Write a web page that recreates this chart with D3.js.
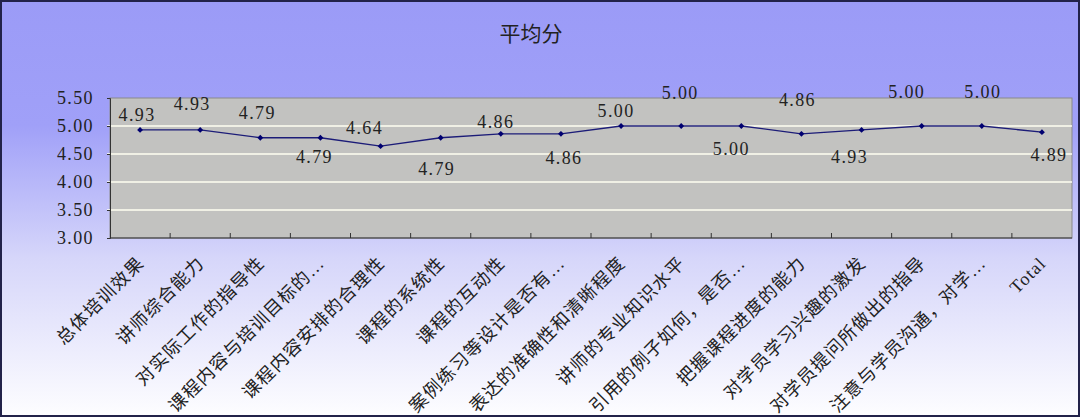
<!DOCTYPE html>
<html>
<head>
<meta charset="utf-8">
<script src="https://cdn.jsdelivr.net/npm/d3@7"></script>
<style>
  html, body { margin: 0; padding: 0; background: #fff; }
  svg { display: block; }
  .num { font-family: "Liberation Serif", "DejaVu Serif", serif; font-size: 18px; letter-spacing: 1.4px; fill: #222; }
  .cat { font-family: "Liberation Serif", "Noto Sans CJK SC", sans-serif; font-size: 18px; letter-spacing: 1.2px; fill: #222; }
</style>
</head>
<body>
<div id="chart"></div>
<script>
// categories and the average score of each
const categories = [
  "总体培训效果", "讲师综合能力", "对实际工作的指导性", "课程内容与培训目标的…",
  "课程内容安排的合理性", "课程的系统性", "课程的互动性", "案例练习等设计是否有…",
  "表达的准确性和清晰程度", "讲师的专业知识水平", "引用的例子如何，是否…",
  "把握课程进度的能力", "对学员学习兴趣的激发", "对学员提问所做出的指导",
  "注意与学员沟通，对学…", "Total"
];
const scores = [4.93, 4.93, 4.79, 4.79, 4.64, 4.79, 4.86, 4.86, 5.00, 5.00, 5.00, 4.86, 4.93, 5.00, 5.00, 4.89];
const yTicks = [3.00, 3.50, 4.00, 4.50, 5.00, 5.50];
const title = "平均分";

// where each value label sits relative to its point (px)
const labelDx = [-3, -8, -3, -6, -16, -4, -5, 3, -5, -1, -10, -4, -12, -15, 1, 7];
const labelDy = [-15, -26, -25, 19, -18, 31, -12, 24, -15, -33, 23, -34, 27, -34, -34, 23];

const W = 1080, H = 417;
const plot = {left: 110, right: 1072, top: 98, bottom: 238};

const svg = d3.select("#chart").append("svg")
  .attr("width", W).attr("height", H);

// background gradient
const defs = svg.append("defs");
const grad = defs.append("linearGradient")
  .attr("id", "bg").attr("x1", 0).attr("y1", 0).attr("x2", 0).attr("y2", 1);
grad.append("stop").attr("offset", "0%").attr("stop-color", "#9b9bf7");
grad.append("stop").attr("offset", "30%").attr("stop-color", "#a0a0f8");
grad.append("stop").attr("offset", "62%").attr("stop-color", "#d6d6fa");
grad.append("stop").attr("offset", "100%").attr("stop-color", "#fdfdff");

svg.append("rect")
  .attr("x", 1).attr("y", 1).attr("width", W - 2).attr("height", H - 2)
  .attr("fill", "url(#bg)")
  .attr("stroke", "#22224a").attr("stroke-width", 2);

svg.append("text")
  .attr("x", 531).attr("y", 32)
  .attr("text-anchor", "middle").attr("dominant-baseline", "central")
  .attr("font-family", "\"Noto Sans CJK SC\", sans-serif")
  .attr("font-size", 21).attr("fill", "#222")
  .text(title);

// scales
const x = d3.scaleBand().domain(categories).range([plot.left, plot.right]).padding(0);
const y = d3.scaleLinear().domain([3, 5.5]).range([plot.bottom, plot.top]);

// plot area
svg.append("rect")
  .attr("x", plot.left).attr("y", plot.top)
  .attr("width", plot.right - plot.left).attr("height", plot.bottom - plot.top)
  .attr("fill", "#c2c2c0").attr("stroke", "#8a8a8a");

// gridlines
svg.append("g").selectAll("line")
  .data(yTicks.filter(d => d > 3 && d < 5.5))
  .join("line")
  .attr("x1", plot.left - 3).attr("x2", plot.right)
  .attr("y1", d => y(d)).attr("y2", d => y(d))
  .attr("stroke", "#fffff2").attr("stroke-width", 1.3);

// y axis
const yAxis = svg.append("g")
  .attr("transform", `translate(${plot.left},0)`)
  .call(d3.axisLeft(y).tickValues(yTicks).tickFormat(d3.format(".2f")).tickSize(3).tickPadding(13));
yAxis.select(".domain").attr("stroke", "#333");
yAxis.selectAll(".tick line").attr("stroke", "#333");
yAxis.selectAll(".tick text").attr("class", "num").attr("fill", "#2a2a3a").attr("font-size", null).attr("font-family", null);

// x axis line with inside ticks at category boundaries
svg.append("line")
  .attr("x1", plot.left).attr("x2", plot.right)
  .attr("y1", plot.bottom).attr("y2", plot.bottom)
  .attr("stroke", "#333");
svg.append("g").selectAll("line")
  .data(categories.slice(1))
  .join("line")
  .attr("x1", d => x(d)).attr("x2", d => x(d))
  .attr("y1", plot.bottom).attr("y2", plot.bottom - 5)
  .attr("stroke", "#333");

// category labels
svg.append("g").selectAll("text")
  .data(categories)
  .join("text")
  .attr("class", "cat")
  .attr("text-anchor", "end")
  .attr("dominant-baseline", "central")
  .attr("transform", d => `translate(${x(d) + x.bandwidth() / 2 + 1},${plot.bottom + 22}) rotate(-45)`)
  .text(d => d);

// line
const cx = (d, i) => x(categories[i]) + x.bandwidth() / 2;
svg.append("path")
  .datum(scores)
  .attr("fill", "none")
  .attr("stroke", "#1c1c78").attr("stroke-width", 1.3)
  .attr("d", d3.line().x(cx).y(d => y(d)));

// diamond markers
svg.append("g").selectAll("path")
  .data(scores)
  .join("path")
  .attr("transform", (d, i) => `translate(${cx(d, i)},${y(d)})`)
  .attr("d", d3.symbol(d3.symbolDiamond2, 22))
  .attr("fill", "#000070");

// value labels
svg.append("g").selectAll("text")
  .data(scores)
  .join("text")
  .attr("class", "num")
  .attr("text-anchor", "middle")
  .attr("dominant-baseline", "central")
  .attr("x", (d, i) => cx(d, i) + labelDx[i])
  .attr("y", (d, i) => y(d) + labelDy[i])
  .text(d => d3.format(".2f")(d));
</script>
</body>
</html>
